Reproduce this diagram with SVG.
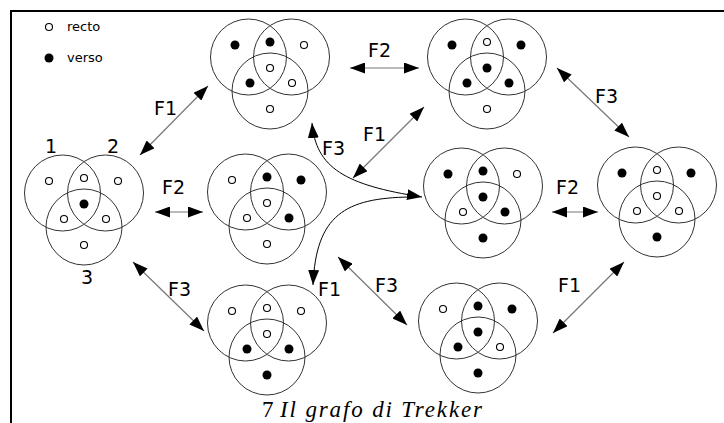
<svg xmlns="http://www.w3.org/2000/svg" xmlns:xlink="http://www.w3.org/1999/xlink" width="724" height="423" viewBox="0 0 724 423">
<style>
.ring{fill:none;stroke:#333;stroke-width:1}
.o{fill:#fff;stroke:#000;stroke-width:1.1}
.f{fill:#000}
.lbl{font-family:"DejaVu Sans",sans-serif;font-size:19px;fill:#000}
.leg{font-family:"DejaVu Sans",sans-serif;font-size:13px;fill:#000}
.ln{stroke:#777;stroke-width:1.2;fill:none}
.cv{stroke:#000;stroke-width:1;fill:none}
.cap{font-family:"Liberation Serif",serif;font-size:23px;fill:#000}
</style>
<defs>
<marker id="ah" markerUnits="userSpaceOnUse" markerWidth="16" markerHeight="11" refX="15" refY="5.5" orient="auto-start-reverse"><path d="M0,0 L15,5.5 L0,11 z" fill="#000"/></marker>
<g id="venn">
<circle cx="-21.5" cy="-11" r="38" class="ring"/>
<circle cx="21.5" cy="-11" r="38" class="ring"/>
<circle cx="0" cy="23" r="38" class="ring"/>
</g>
</defs>
<rect width="724" height="423" fill="#fff"/>
<path d="M11,423 V11 H724" fill="none" stroke="#000" stroke-width="2"/>
<g id="legend">
<circle cx="49" cy="27" r="3.5" class="o"/>
<text x="67" y="31" class="leg">recto</text>
<circle cx="49" cy="58" r="4.5" class="f"/>
<text x="67" y="62" class="leg">verso</text>
</g>
<g id="nodeA" transform="translate(84,204)">
<use xlink:href="#venn"/>
<circle cx="-35" cy="-23" r="3.5" class="o"/><circle cx="0" cy="-26" r="3.5" class="o"/><circle cx="34" cy="-23" r="3.5" class="o"/>
<circle cx="0" cy="0" r="4.5" class="f"/>
<circle cx="-20" cy="15" r="3.5" class="o"/><circle cx="22" cy="15" r="3.5" class="o"/><circle cx="0" cy="41" r="3.5" class="o"/>
<text x="-33" y="-51" class="lbl" text-anchor="middle">1</text>
<text x="29" y="-51" class="lbl" text-anchor="middle">2</text>
<text x="3" y="80" class="lbl" text-anchor="middle">3</text>
</g>
<g id="nodeB" transform="translate(270,68)">
<use xlink:href="#venn"/>
<circle cx="-35" cy="-23" r="4.5" class="f"/><circle cx="0" cy="-26" r="4.5" class="f"/><circle cx="34" cy="-23" r="3.5" class="o"/>
<circle cx="0" cy="0" r="3.5" class="o"/>
<circle cx="-20" cy="15" r="4.5" class="f"/><circle cx="22" cy="15" r="3.5" class="o"/><circle cx="0" cy="41" r="3.5" class="o"/>
</g>
<g id="nodeC" transform="translate(487,68)">
<use xlink:href="#venn"/>
<circle cx="-35" cy="-23" r="4.5" class="f"/><circle cx="0" cy="-26" r="3.5" class="o"/><circle cx="34" cy="-23" r="4.5" class="f"/>
<circle cx="0" cy="0" r="4.5" class="f"/>
<circle cx="-20" cy="15" r="4.5" class="f"/><circle cx="22" cy="15" r="4.5" class="f"/><circle cx="0" cy="41" r="3.5" class="o"/>
</g>
<g id="nodeD" transform="translate(267,203)">
<use xlink:href="#venn"/>
<circle cx="-35" cy="-23" r="3.5" class="o"/><circle cx="0" cy="-26" r="4.5" class="f"/><circle cx="34" cy="-23" r="4.5" class="f"/>
<circle cx="0" cy="0" r="3.5" class="o"/>
<circle cx="-20" cy="15" r="3.5" class="o"/><circle cx="22" cy="15" r="4.5" class="f"/><circle cx="0" cy="41" r="3.5" class="o"/>
</g>
<g id="nodeE" transform="translate(267,334)">
<use xlink:href="#venn"/>
<circle cx="-35" cy="-23" r="3.5" class="o"/><circle cx="0" cy="-26" r="3.5" class="o"/><circle cx="34" cy="-23" r="3.5" class="o"/>
<circle cx="0" cy="0" r="3.5" class="o"/>
<circle cx="-20" cy="15" r="4.5" class="f"/><circle cx="22" cy="15" r="4.5" class="f"/><circle cx="0" cy="41" r="4.5" class="f"/>
</g>
<g id="nodeF" transform="translate(483,197)">
<use xlink:href="#venn"/>
<circle cx="-35" cy="-23" r="4.5" class="f"/><circle cx="0" cy="-26" r="4.5" class="f"/><circle cx="34" cy="-23" r="3.5" class="o"/>
<circle cx="0" cy="0" r="4.5" class="f"/>
<circle cx="-20" cy="15" r="3.5" class="o"/><circle cx="22" cy="15" r="4.5" class="f"/><circle cx="0" cy="41" r="4.5" class="f"/>
</g>
<g id="nodeG" transform="translate(657,196)">
<use xlink:href="#venn"/>
<circle cx="-35" cy="-23" r="4.5" class="f"/><circle cx="0" cy="-26" r="3.5" class="o"/><circle cx="34" cy="-23" r="4.5" class="f"/>
<circle cx="0" cy="0" r="3.5" class="o"/>
<circle cx="-20" cy="15" r="3.5" class="o"/><circle cx="22" cy="15" r="3.5" class="o"/><circle cx="0" cy="41" r="4.5" class="f"/>
</g>
<g id="nodeH" transform="translate(478,332)">
<use xlink:href="#venn"/>
<circle cx="-35" cy="-23" r="3.5" class="o"/><circle cx="0" cy="-26" r="4.5" class="f"/><circle cx="34" cy="-23" r="4.5" class="f"/>
<circle cx="0" cy="0" r="4.5" class="f"/>
<circle cx="-20" cy="15" r="4.5" class="f"/><circle cx="22" cy="15" r="3.5" class="o"/><circle cx="0" cy="41" r="4.5" class="f"/>
</g>
<g id="connectors">
<line x1="140" y1="155" x2="208" y2="86" class="ln" marker-start="url(#ah)" marker-end="url(#ah)"/>
<line x1="155" y1="212" x2="203" y2="212" class="ln" marker-start="url(#ah)" marker-end="url(#ah)"/>
<line x1="133" y1="262" x2="204" y2="331" class="ln" marker-start="url(#ah)" marker-end="url(#ah)"/>
<line x1="350" y1="68" x2="419" y2="68" class="ln" marker-start="url(#ah)" marker-end="url(#ah)"/>
<line x1="557" y1="68" x2="629" y2="137" class="ln" marker-start="url(#ah)" marker-end="url(#ah)"/>
<line x1="353" y1="178" x2="424" y2="107" class="ln" marker-start="url(#ah)" marker-end="url(#ah)"/>
<line x1="338" y1="257" x2="407" y2="325" class="ln" marker-start="url(#ah)" marker-end="url(#ah)"/>
<line x1="552" y1="212" x2="598" y2="212" class="ln" marker-start="url(#ah)" marker-end="url(#ah)"/>
<line x1="553" y1="333" x2="624" y2="262" class="ln" marker-start="url(#ah)" marker-end="url(#ah)"/>
<path d="M312,123 C316,168 345,185 422,197" class="cv" marker-start="url(#ah)" marker-end="url(#ah)"/>
<path d="M410,197 C345,198 316,215 313,285" class="cv" marker-end="url(#ah)"/>
<text x="154" y="115" class="lbl">F1</text>
<text x="162" y="194" class="lbl">F2</text>
<text x="168" y="296" class="lbl">F3</text>
<text x="368" y="57" class="lbl">F2</text>
<text x="595" y="103" class="lbl">F3</text>
<text x="363" y="141" class="lbl">F1</text>
<text x="322" y="155" class="lbl">F3</text>
<text x="318" y="296" class="lbl">F1</text>
<text x="375" y="292" class="lbl">F3</text>
<text x="556" y="194" class="lbl">F2</text>
<text x="558" y="292" class="lbl">F1</text>
</g>
<text x="262" y="417" class="cap">7</text>
<text x="280" y="417" class="cap" font-style="italic" textLength="202" lengthAdjust="spacing">Il grafo di Trekker</text>
</svg>
